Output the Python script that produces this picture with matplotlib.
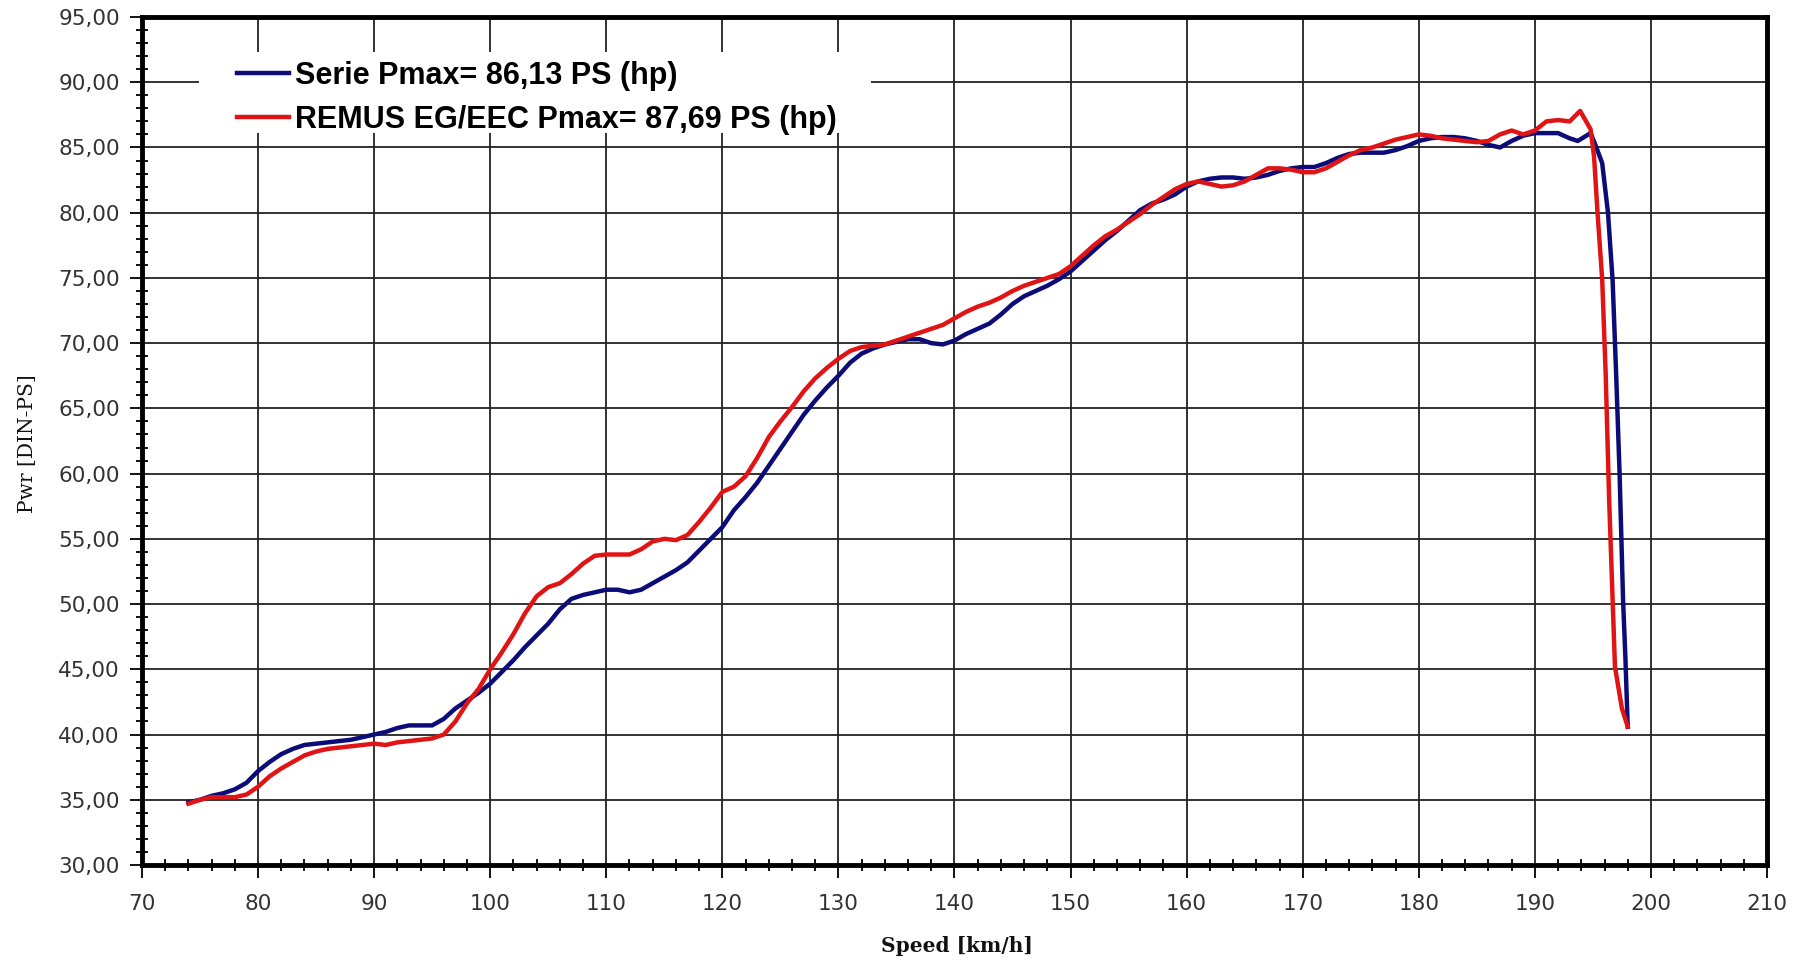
import numpy as np
import matplotlib.pyplot as plt
from matplotlib.ticker import MultipleLocator, FuncFormatter
from matplotlib.patches import Rectangle

# Serie (stock) curve
serie_speed = [74, 75, 76, 77, 78, 79, 80, 81, 82, 83, 84, 85, 86, 87, 88, 89, 90,
               91, 92, 93, 94, 95, 96, 97, 98, 99, 100, 101, 102, 103, 104, 105,
               106, 107, 108, 109, 110, 111, 112, 113, 114, 115, 116, 117, 118, 119,
               120, 121, 122, 123, 124, 125, 126, 127, 128, 129, 130, 131, 132, 133,
               134, 135, 136, 137, 138, 139, 140, 141, 142, 143, 144, 145, 146, 147,
               148, 149, 150, 151, 152, 153, 154, 155, 156, 157, 158, 159, 160, 161,
               162, 163, 164, 165, 166, 167, 168, 169, 170, 171, 172, 173, 174, 175,
               176, 177, 178, 179, 180, 181, 182, 183, 184, 185, 186, 187, 188, 189,
               190, 191, 192, 193, 193.7, 194.8, 195.3, 195.8, 196.3, 196.7, 197.0,
               197.3, 197.6, 197.8, 198.0]
serie_pwr = [34.8, 35.0, 35.3, 35.5, 35.8, 36.3, 37.2, 37.9, 38.5, 38.9, 39.2, 39.3,
             39.4, 39.5, 39.6, 39.8, 40.0, 40.2, 40.5, 40.7, 40.7, 40.7, 41.2, 42.0,
             42.6, 43.2, 43.9, 44.8, 45.7, 46.7, 47.6, 48.5, 49.6, 50.4, 50.7, 50.9,
             51.1, 51.1, 50.9, 51.1, 51.6, 52.1, 52.6, 53.2, 54.1, 55.0, 55.9, 57.2,
             58.2, 59.3, 60.6, 61.9, 63.2, 64.5, 65.6, 66.6, 67.5, 68.5, 69.2, 69.6,
             69.9, 70.1, 70.3, 70.3, 70.0, 69.9, 70.2, 70.7, 71.1, 71.5, 72.2, 73.0,
             73.6, 74.0, 74.4, 74.9, 75.5, 76.3, 77.1, 77.9, 78.6, 79.4, 80.2, 80.7,
             81.0, 81.4, 82.0, 82.4, 82.6, 82.7, 82.7, 82.6, 82.7, 82.9, 83.2, 83.4,
             83.5, 83.5, 83.8, 84.2, 84.5, 84.6, 84.6, 84.6, 84.8, 85.1, 85.5, 85.7,
             85.8, 85.8, 85.7, 85.5, 85.2, 85.0, 85.5, 85.9, 86.1, 86.1, 86.1, 85.7,
             85.5, 86.1, 85.0, 83.8, 80.0, 74.8, 67.7, 60.0, 50.3, 45.9, 40.6]

# REMUS EG/EEC curve
remus_speed = [74, 75, 76, 77, 78, 79, 80, 81, 82, 83, 84, 85, 86, 87, 88, 89, 90,
               91, 92, 93, 94, 95, 96, 97, 98, 99, 100, 101, 102, 103, 104, 105,
               106, 107, 108, 109, 110, 111, 112, 113, 114, 115, 116, 117, 118, 119,
               120, 121, 122, 123, 124, 125, 126, 127, 128, 129, 130, 131, 132, 133,
               134, 135, 136, 137, 138, 139, 140, 141, 142, 143, 144, 145, 146, 147,
               148, 149, 150, 151, 152, 153, 154, 155, 156, 157, 158, 159, 160, 161,
               162, 163, 164, 165, 166, 167, 168, 169, 170, 171, 172, 173, 174, 175,
               176, 177, 178, 179, 180, 181, 182, 183, 184, 185, 186, 187, 188, 189,
               190, 191, 192, 193, 193.9, 194.8, 195.1, 195.4, 195.8, 196.1, 196.4,
               196.7, 196.9, 197.5, 198.0]
remus_pwr = [34.7, 35.0, 35.2, 35.2, 35.2, 35.4, 36.0, 36.8, 37.4, 37.9, 38.4, 38.7,
             38.9, 39.0, 39.1, 39.2, 39.3, 39.2, 39.4, 39.5, 39.6, 39.7, 40.0, 41.0,
             42.4, 43.5, 45.0, 46.3, 47.7, 49.3, 50.6, 51.3, 51.6, 52.3, 53.1, 53.7,
             53.8, 53.8, 53.8, 54.2, 54.8, 55.0, 54.9, 55.3, 56.3, 57.4, 58.6, 59.0,
             59.8, 61.2, 62.8, 64.0, 65.1, 66.3, 67.3, 68.1, 68.8, 69.4, 69.7, 69.8,
             69.9, 70.2, 70.5, 70.8, 71.1, 71.4, 71.9, 72.4, 72.8, 73.1, 73.5, 74.0,
             74.4, 74.7, 75.0, 75.3, 75.9, 76.7, 77.5, 78.2, 78.7, 79.3, 79.9, 80.6,
             81.2, 81.8, 82.2, 82.4, 82.2, 82.0, 82.1, 82.4, 82.9, 83.4, 83.4, 83.3,
             83.1, 83.1, 83.4, 83.9, 84.4, 84.8, 85.0, 85.3, 85.6, 85.8, 86.0, 85.9,
             85.7, 85.6, 85.5, 85.4, 85.5, 86.0, 86.3, 86.0, 86.3, 87.0, 87.1, 87.0,
             87.8, 86.4, 84.3, 80.0, 74.9, 67.7, 58.0, 50.3, 45.2, 42.0, 40.6]

labels = ["Serie Pmax= 86,13 PS (hp)", "REMUS EG/EEC Pmax= 87,69 PS (hp)"]

fig = plt.figure(figsize=(18.01, 9.61), dpi=100)
ax = fig.add_axes([142/1801, 1 - 865/961, (1767 - 142)/1801, (865 - 17)/961])

ax.plot(serie_speed, serie_pwr, color='#0c0c78', lw=3.2, label=labels[0], zorder=3)
ax.plot(remus_speed, remus_pwr, color='#e01414', lw=3.2, label=labels[1], zorder=4)

ax.set_xlim(70, 210)
ax.set_ylim(30, 95)
ax.xaxis.set_major_locator(MultipleLocator(10))
ax.xaxis.set_minor_locator(MultipleLocator(2))
ax.yaxis.set_major_locator(MultipleLocator(5))
ax.yaxis.set_minor_locator(MultipleLocator(1))
ax.yaxis.set_major_formatter(FuncFormatter(lambda v, p: "{:.2f}".format(v).replace('.', ',')))

ax.grid(True, which='major', color='#222222', lw=1.3)
ax.set_axisbelow(True)
for s in ax.spines.values():
    s.set_linewidth(3.5)

ax.tick_params(which='major', direction='out', length=9, width=1.3, labelsize=15.5,
               labelcolor='#333333', pad=7)
ax.tick_params(which='minor', direction='inout', length=9, width=1.3)
ax.tick_params(axis='x', which='major', pad=12)
for lab in ax.get_xticklabels() + ax.get_yticklabels():
    lab.set_family('DejaVu Sans')

# axis titles
fig.text(957/1801, 1 - 946/961, "Speed [km/h]", family='DejaVu Serif', fontweight='bold',
         fontsize=14.5, ha='center', va='center', color='#111111')
fig.text(28/1801, 1 - 444/961, "Pwr [DIN-PS]", family='DejaVu Serif', fontsize=14.5,
         rotation=90, ha='center', va='center', color='#111111')

# white box behind the legend (covers grid lines)
ax.add_patch(Rectangle((0.035, 0.863), 0.4136, 0.0957, transform=ax.transAxes,
                       facecolor='white', edgecolor='none', zorder=2.5))
leg = ax.legend(loc='upper left', bbox_to_anchor=(0.0493, 0.966), frameon=False,
                prop={'family': 'Liberation Sans', 'weight': 'bold', 'size': 22},
                handlelength=1.7, handletextpad=0.2, labelspacing=0.45, borderpad=0)
leg.set_zorder(5)

fig.savefig("out.png", dpi=100)
